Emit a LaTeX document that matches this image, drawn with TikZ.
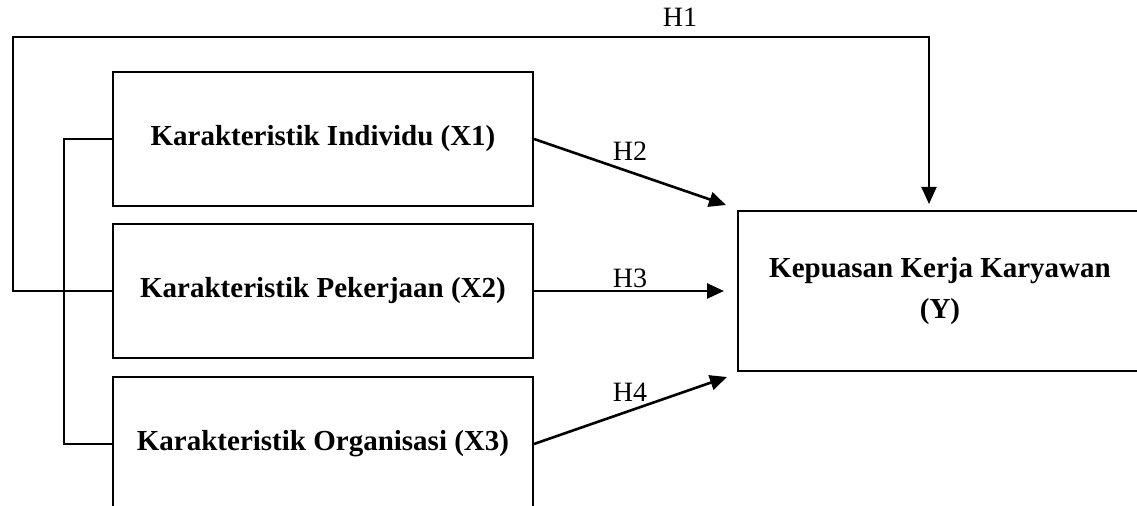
\documentclass[tikz,border=0pt]{standalone}
\usepackage{fontspec}
\setmainfont{Liberation Serif}
\usetikzlibrary{arrows.meta, calc}

\begin{document}
\begin{tikzpicture}[x=0.5pt, y=-0.5pt,
    box/.style={draw, line width=1pt, minimum width=210pt, minimum height=67pt,
      inner sep=0pt, font=\fontsize{14.5}{17}\selectfont\bfseries},
    arr/.style={line width=1.3pt, -{Triangle[length=8.5pt, width=7.5pt]}},
    lbl/.style={inner sep=0pt, font=\fontsize{14}{16}\selectfont}]

      \clip (0, 0) rectangle (1137, 506);
      \fill[white] (0, 0) rectangle (1137, 506);

      \node[box] (x1) at (323, 139) {Karakteristik Individu (X1)};
      \node[box] (x2) at (323, 291) {Karakteristik Pekerjaan (X2)};
      \node[box] (x3) at (323, 444) {Karakteristik Organisasi (X3)};
      \node[box, minimum width=202pt, minimum height=80pt, align=center,
        font=\fontsize{14.5}{20.5}\selectfont\bfseries] (y) at (940, 291)
        {Kepuasan Kerja Karyawan\\(Y)};

      \coordinate (corner) at (13, 37);

      \draw[arr, line width=1pt] (x2.west) -| (corner) -| ($(y.north) + (-11, -6)$);
      \draw[line width=1pt] (x1.west) -- ++(-48, 0) |- (x3.west);

      \draw[arr] (x1.east) -- ($(y.north west) + (-11, -5)$);
      \draw[arr] (x2.east) -- ($(x2.east -| y.west) + (-13, 0)$);
      \draw[arr] (x3.east) -- ($(y.south west) + (-10, 5)$);

      \node[lbl] (h1) at (680, 17) {H1};
      \node[lbl] (h2) at (630, 151) {H2};
      \node[lbl] (h3) at (630, 278) {H3};
      \node[lbl] (h4) at (630, 392) {H4};

    \end{tikzpicture}
\end{document}
